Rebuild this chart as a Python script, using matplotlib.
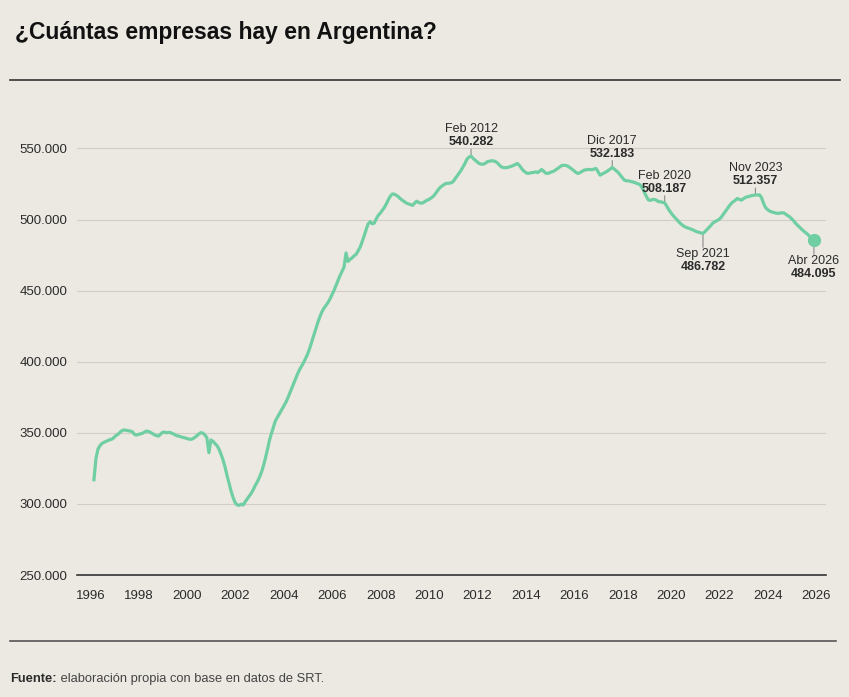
import numpy as np
import matplotlib
matplotlib.use("Agg")
import matplotlib.pyplot as plt
from matplotlib.lines import Line2D
from matplotlib.ticker import FuncFormatter

# serie mensual (miles de empresas), desde julio 1996 hasta abril 2026
inicio = (1996, 7)
empresas_miles = [
    317.0, 332.0, 338.5, 341.0, 342.5, 343.3,                                        # 1996
    344.0, 344.6, 345.2, 345.6, 346.8, 348.2, 349.0, 350.5, 351.6, 352.0, 351.8, 351.5,  # 1997
    351.2, 350.8, 349.0, 348.4, 348.8, 349.3, 349.6, 350.5, 351.2, 351.0, 350.3, 349.5,  # 1998
    348.6, 348.0, 347.7, 349.0, 350.3, 350.5, 350.0, 350.3, 350.1, 349.5, 348.8, 348.0,  # 1999
    347.7, 347.3, 346.8, 346.5, 346.0, 345.6, 345.4, 345.8, 346.8, 347.9, 349.2, 350.1,  # 2000
    349.8, 348.5, 346.5, 336.0, 345.0, 344.0, 342.5, 341.0, 338.5, 335.0, 331.0, 326.0,  # 2001
    320.0, 314.5, 309.0, 304.5, 301.0, 299.3, 299.0, 299.8, 299.2, 301.5, 303.5, 305.5,  # 2002
    307.5, 310.0, 313.0, 315.5, 318.5, 322.0, 326.5, 332.0, 338.0, 344.5, 349.5, 354.0,  # 2003
    358.5, 361.0, 363.5, 366.0, 368.5, 371.0, 374.0, 377.5, 381.0, 384.5, 388.0, 391.5,  # 2004
    394.5, 397.0, 399.5, 402.5, 405.5, 409.5, 414.0, 418.5, 423.0, 427.5, 431.5, 435.0,  # 2005
    437.5, 439.5, 441.5, 444.0, 447.0, 450.0, 453.5, 457.0, 460.5, 463.5, 466.5, 476.5,  # 2006
    470.5, 472.0, 473.0, 474.5, 475.5, 478.0, 480.5, 484.5, 488.5, 493.0, 497.0, 498.5,  # 2007
    497.0, 497.5, 500.5, 503.0, 504.5, 506.5, 508.5, 511.0, 514.0, 516.5, 518.0, 517.8,  # 2008
    517.0, 516.0, 514.5, 513.5, 512.5, 511.5, 511.0, 510.5, 510.0, 511.5, 512.9, 512.0,  # 2009
    511.5, 511.7, 512.5, 513.5, 514.0, 515.0, 516.0, 517.5, 519.5, 521.5, 523.0, 524.0,  # 2010
    525.0, 525.5, 525.5, 525.8, 526.5, 528.5, 530.5, 532.5, 534.5, 537.0, 539.5, 542.5,  # 2011
    544.0, 544.6, 543.0, 541.8, 540.5, 539.4, 539.0, 538.9, 539.5, 540.6, 541.0, 541.3,  # 2012
    541.3, 540.8, 539.9, 538.5, 537.0, 536.6, 536.4, 536.6, 537.0, 537.5, 538.0, 538.8,  # 2013
    539.4, 538.0, 536.0, 534.3, 533.2, 532.4, 532.6, 533.0, 533.1, 533.5, 533.0, 534.0,  # 2014
    535.2, 534.0, 532.6, 532.4, 533.0, 533.5, 534.0, 535.0, 535.9, 537.0, 538.0, 538.2,  # 2015
    538.0, 537.5, 536.5, 535.5, 534.3, 533.2, 532.4, 533.0, 533.8, 534.7, 535.0, 535.2,  # 2016
    535.2, 535.0, 535.5, 535.9, 533.5, 531.2, 532.0, 532.8, 533.5, 534.5, 535.5, 536.6,  # 2017
    535.5, 534.2, 533.0, 531.2, 529.5, 527.7, 527.3, 527.2, 526.8, 526.5, 526.1, 525.5,  # 2018
    525.0, 524.2, 522.0, 519.0, 516.0, 513.7, 513.5, 514.1, 514.1, 513.5, 512.5, 512.5,  # 2019
    512.0, 511.8, 509.5, 507.0, 505.0, 503.1, 501.5, 500.0, 498.4, 497.0, 495.8, 494.9,  # 2020
    494.3, 493.8, 493.3, 492.7, 492.0, 491.4, 491.0, 490.6, 490.2, 491.5, 493.0, 494.5,  # 2021
    496.0, 497.7, 498.5, 499.3, 500.1, 501.5, 503.5, 505.4, 507.5, 509.5, 511.3, 512.5,  # 2022
    513.5, 514.8, 514.2, 513.6, 514.5, 515.5, 516.0, 516.3, 516.8, 517.0, 517.3, 517.2,  # 2023
    517.4, 515.5, 511.5, 508.5, 507.0, 506.0, 505.4, 505.0, 504.6, 504.3, 504.5, 504.7,  # 2024
    504.7, 503.8, 502.8, 501.9, 500.5, 499.0, 497.3, 495.8, 494.5, 493.0, 491.8, 490.5,  # 2025
    489.5, 488.0, 486.8, 485.3,                                                      # 2026
]

anios_eje = list(range(1996, 2027, 2))
y_ticks = [250000, 300000, 350000, 400000, 450000, 500000, 550000]

etiq_fechas = [(2012, 2), (2017, 12), (2020, 2), (2021, 9), (2023, 11), (2026, 4)]
etiq_meses = ["Feb 2012", "Dic 2017", "Feb 2020", "Sep 2021", "Nov 2023", "Abr 2026"]
etiq_valores = ["540.282", "532.183", "508.187", "486.782", "512.357", "484.095"]
etiq_arriba = [True, True, True, False, True, False]

FONDO = "#ece9e3"
VERDE = "#6fcfa2"
TEXTO = "#2b2b2b"
FUENTE = "Liberation Sans"


def fecha_a_t(anio, mes):
    return anio + (mes - 1) / 12


valores = np.array(empresas_miles) * 1000
t = fecha_a_t(*inicio) + np.arange(len(valores)) / 12

fig = plt.figure(figsize=(8.49, 6.97), dpi=100, facecolor=FONDO)
ax = fig.add_axes([77 / 849, 1 - 575 / 697, (826 - 77) / 849, (575 - 120) / 697])
ax.set_facecolor(FONDO)

ax.plot(t, valores, color=VERDE, lw=2.3, solid_joinstyle="round", zorder=3)
ax.plot(t[-1], valores[-1], "o", color=VERDE, ms=8.5, zorder=4)

ax.set_xlim(1995.80, 2026.75)
ax.set_ylim(250000, 570000)

ax.set_xticks([a + 0.35 for a in anios_eje])
ax.set_xticklabels([str(a) for a in anios_eje])
ax.set_yticks(y_ticks)
ax.yaxis.set_major_formatter(FuncFormatter(lambda v, p: f"{int(v):,}".replace(",", ".")))
ax.tick_params(length=0, labelsize=9.5, labelcolor=TEXTO)
ax.tick_params(axis="x", pad=11)
ax.tick_params(axis="y", pad=7)
for lab in ax.get_xticklabels() + ax.get_yticklabels():
    lab.set_fontfamily(FUENTE)

ax.yaxis.grid(True, color="#d2cec7", lw=0.8)
ax.set_axisbelow(True)
for s in ["top", "right", "left"]:
    ax.spines[s].set_visible(False)
ax.spines["bottom"].set_color("#333333")
ax.spines["bottom"].set_linewidth(1.2)

# etiquetas de puntos destacados
for (anio, mes), m, val, arriba in zip(etiq_fechas, etiq_meses, etiq_valores, etiq_arriba):
    i = int(round((fecha_a_t(anio, mes) - t[0]) * 12))
    px, py = t[i], valores[i]
    gap = 5 if arriba else 10
    s = 1 if arriba else -1
    ax.annotate("", xy=(px, py), xytext=(0, s * gap), textcoords="offset points",
                arrowprops=dict(arrowstyle="-", color="#8c8c8c", lw=0.8, shrinkA=0, shrinkB=1),
                zorder=2)
    kw = dict(xy=(px, py), textcoords="offset points", ha="center", fontsize=9,
              color=TEXTO, family=FUENTE, annotation_clip=False)
    if arriba:
        ax.annotate(val, xytext=(0, gap + 0.5), va="bottom", weight="bold", **kw)
        ax.annotate(m, xytext=(0, gap + 10), va="bottom", **kw)
    else:
        ax.annotate(m, xytext=(0, -gap - 0.5), va="top", **kw)
        ax.annotate(val, xytext=(0, -gap - 10), va="top", weight="bold", **kw)

# titulo, reglas y fuente
fig.text(15 / 849, 1 - 33 / 697, "¿Cuántas empresas hay en Argentina?", fontsize=16.5,
         weight="bold", color="#111111", family=FUENTE, va="center")
fig.add_artist(Line2D([10 / 849, 840 / 849], [1 - 80 / 697] * 2, color="#333333", lw=1.2))
fig.add_artist(Line2D([10 / 849, 836 / 849], [1 - 641 / 697] * 2, color="#555555", lw=1.2))

f1 = fig.text(10 / 849, 1 - 679 / 697, "Fuente:", fontsize=9.3, weight="bold",
              color=TEXTO, family=FUENTE, va="center")
ax.annotate(" elaboración propia con base en datos de SRT.", xy=(1, 0.5), xycoords=f1,
            va="center", ha="left", fontsize=9.3, color="#444444", family=FUENTE,
            annotation_clip=False)

fig.savefig("out.png", dpi=100, facecolor=FONDO)
